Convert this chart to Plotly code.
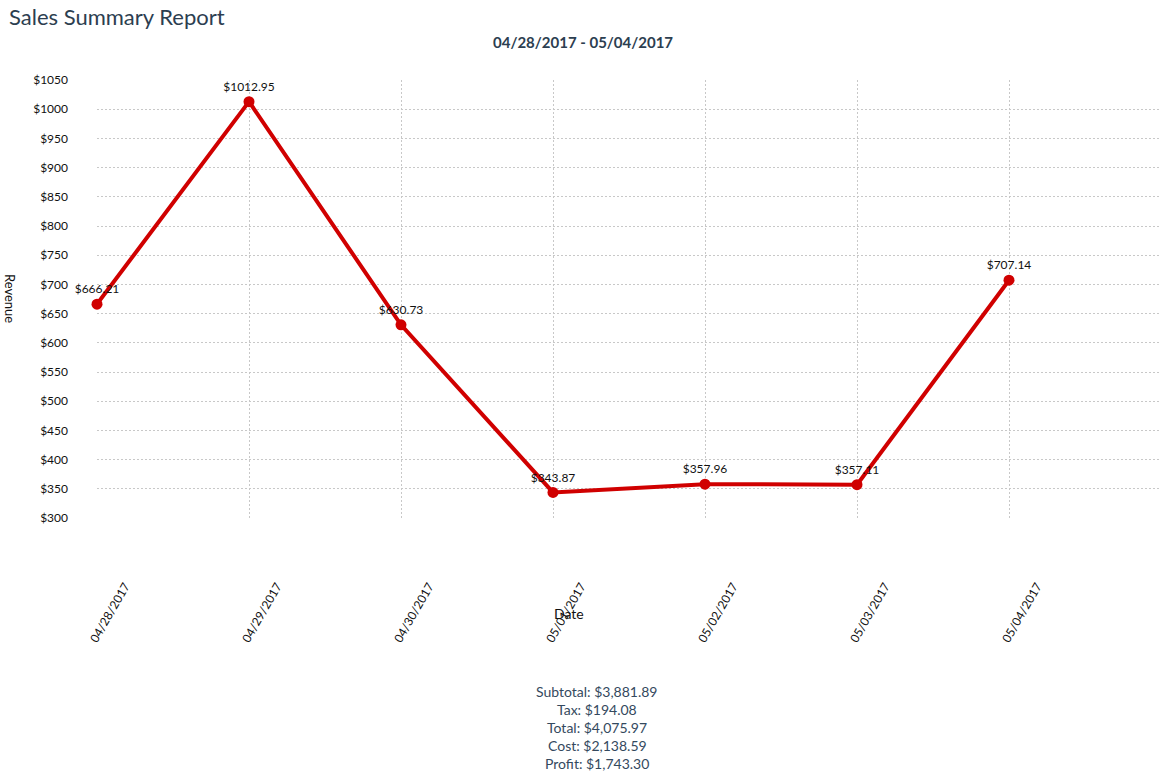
import plotly.graph_objects as go

dates = ["04/28/2017", "04/29/2017", "04/30/2017", "05/01/2017", "05/02/2017", "05/03/2017", "05/04/2017"]
revenue = [666.21, 1012.95, 630.73, 343.87, 357.96, 357.11, 707.14]
labels = ["$666.21", "$1012.95", "$630.73", "$343.87", "$357.96", "$357.11", "$707.14"]
summary = ["Subtotal: $3,881.89", "Tax: $194.08", "Total: $4,075.97", "Cost: $2,138.59", "Profit: $1,743.30"]

W, H = 1166, 780
L, R, T, B = 97, 5, 80, 262

fig = go.Figure()
fig.add_trace(go.Scatter(
    x=list(range(len(dates))), y=revenue, mode="lines+markers+text",
    text=labels, textposition="top center",
    textfont=dict(family="Lato", size=12, color="#111"),
    line=dict(color="#d00000", width=4),
    marker=dict(color="#d00000", size=11),
    cliponaxis=False, hoverinfo="skip",
))

def px_x(p):
    return (p - L) / (W - L - R)

def px_y(p):
    return 1 - (p - T) / (H - T - B)

ann = [
    dict(text="Sales Summary Report", xref="paper", yref="paper", x=px_x(7), y=px_y(16),
         xanchor="left", yanchor="middle", showarrow=False,
         font=dict(family="Lato", size=22, color="#2c3e50")),
    dict(text="<b>04/28/2017 - 05/04/2017</b>", xref="paper", yref="paper", x=px_x(583), y=px_y(42),
         xanchor="center", yanchor="middle", showarrow=False,
         font=dict(family="Lato", size=15, color="#2c3e50")),
    dict(text="Revenue", xref="paper", yref="paper", x=px_x(10), y=px_y(298),
         xanchor="center", yanchor="middle", showarrow=False, textangle=90,
         font=dict(family="Lato", size=13, color="#111")),
    dict(text="Date", xref="paper", yref="paper", x=px_x(569), y=px_y(613),
         xanchor="center", yanchor="middle", showarrow=False,
         font=dict(family="Lato", size=14, color="#111")),
]
for i, s in enumerate(summary):
    ann.append(dict(text=s, xref="paper", yref="paper", x=px_x(597), y=px_y(691 + 18 * i),
                    xanchor="center", yanchor="middle", showarrow=False,
                    font=dict(family="Lato", size=14, color="#34495e")))

fig.update_layout(
    width=W, height=H, margin=dict(l=L, r=R, t=T, b=B),
    paper_bgcolor="white", plot_bgcolor="white", showlegend=False,
    font=dict(family="Lato", size=12, color="#111"),
    annotations=ann,
    xaxis=dict(range=[0, 7], tickmode="array", tickvals=list(range(len(dates))), ticktext=dates,
               tickangle=-60, showgrid=True, gridcolor="#c8c8c8", griddash="2px,2px", gridwidth=1,
               zeroline=False, showline=False, ticks="", ticklabelstandoff=58, ticklabelshift=28,
               tickfont=dict(family="Lato", size=12, color="#111")),
    yaxis=dict(range=[300, 1050], dtick=50, tickprefix="$", showgrid=True, gridcolor="#c8c8c8",
               griddash="2px,2px", gridwidth=1, zeroline=False, showline=False, ticks="",
               ticklabelstandoff=28, tickfont=dict(family="Lato", size=12, color="#111")),
)

fig.write_html("out.html")
